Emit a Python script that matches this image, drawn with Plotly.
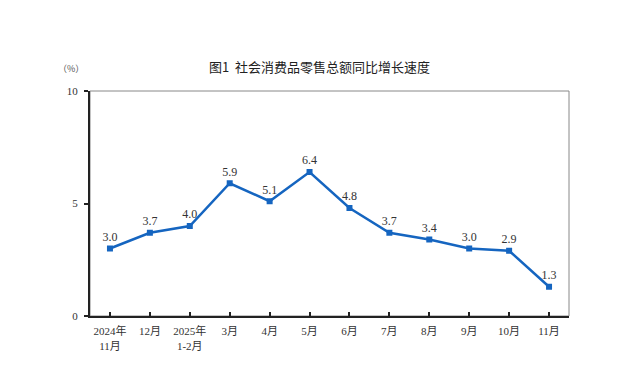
import plotly.graph_objects as go

categories = ["2024年<br>11月", "12月", "2025年<br>1-2月", "3月", "4月", "5月", "6月",
              "7月", "8月", "9月", "10月", "11月"]
values = [3.0, 3.7, 4.0, 5.9, 5.1, 6.4, 4.8, 3.7, 3.4, 3.0, 2.9, 1.3]
value_labels = [f"{v:.1f}" for v in values]
y_ticks = [0, 5, 10]

font_family = "Liberation Serif, Noto Sans CJK SC"
blue = "#1565C0"

fig = go.Figure()
fig.add_trace(go.Scatter(
    x=list(range(len(categories))), y=values,
    mode="lines+markers+text",
    line=dict(color=blue, width=2.5),
    marker=dict(symbol="square", size=6, color=blue),
    text=value_labels, textposition="top center",
    textfont=dict(family=font_family, size=12, color="#333333"),
    cliponaxis=False, hoverinfo="skip",
))

fig.update_layout(
    width=640, height=375,
    margin=dict(l=82, r=79, t=83, b=67),
    paper_bgcolor="white", plot_bgcolor="white",
    showlegend=False,
    font=dict(family=font_family, size=10, color="#333333"),
)
fig.update_xaxes(
    range=[-0.5, len(categories) - 0.5],
    tickmode="array", tickvals=list(range(len(categories))), ticktext=categories,
    showgrid=False, zeroline=False,
    showline=True, linecolor="#222222", linewidth=2,
    ticks="inside", tickson="boundaries", ticklen=4, tickcolor="#222222", tickwidth=1.5,
    ticklabelstandoff=4,
    tickfont=dict(family=font_family, size=11, color="#333333"),
)
fig.update_yaxes(
    range=[0, 10], tickmode="array", tickvals=y_ticks,
    showgrid=False, zeroline=False,
    showline=True, linecolor="#222222", linewidth=2,
    ticks="outside", ticklen=4, tickcolor="#222222", tickwidth=1.5,
    ticklabelstandoff=4,
    tickfont=dict(family=font_family, size=11, color="#333333"),
)
fig.add_shape(type="rect", xref="paper", yref="paper", x0=0, y0=0, x1=1, y1=1,
              line=dict(color="#888888", width=1), layer="below")
fig.add_annotation(text="图1  社会消费品零售总额同比增长速度", xref="paper", yref="paper",
                   x=0.48, y=1, yshift=13, xanchor="center", yanchor="bottom",
                   showarrow=False,
                   font=dict(family="Noto Sans CJK SC", size=13, color="#222222"))
fig.add_annotation(text="（%）", xref="paper", yref="paper",
                   x=0, xshift=-4, y=1, yshift=14, xanchor="right", yanchor="bottom",
                   showarrow=False,
                   font=dict(family="Noto Sans CJK SC", size=9, color="#555555"))

fig.write_html("out.html")
